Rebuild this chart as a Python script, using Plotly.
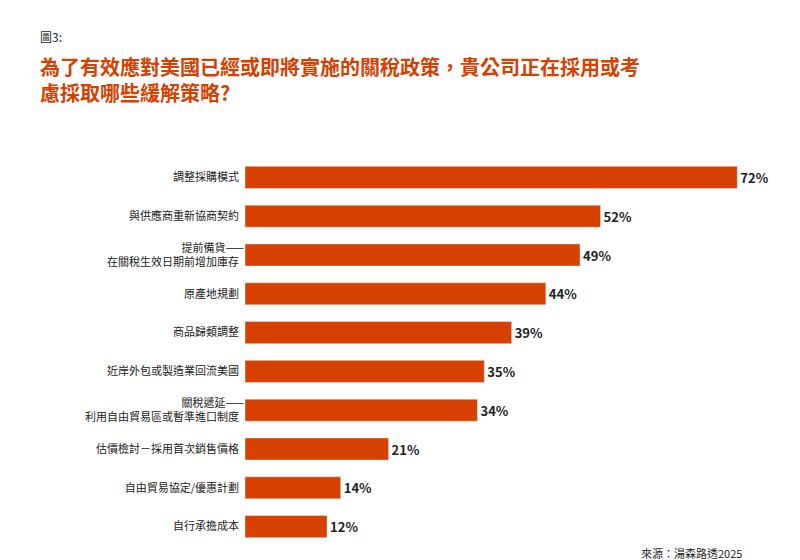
import plotly.graph_objects as go

categories = ["調整採購模式", "與供應商重新協商契約", "提前備貨——<br>在關稅生效日期前增加庫存", "原產地規劃",
              "商品歸類調整", "近岸外包或製造業回流美國", "關稅遞延——<br>利用自由貿易區或暫準進口制度",
              "估價檢討－採用首次銷售價格", "自由貿易協定/優惠計劃", "自行承擔成本"]
values = [72, 52, 49, 44, 39, 35, 34, 21, 14, 12]

font = "Noto Sans CJK TC"
L, R, T, B = 237, 16, 150, 22
W, H = 800 - L - R, 560 - T - B
px = lambda x: (x - L) / W
py = lambda y: (560 - B - y) / H

fig = go.Figure(go.Bar(
    x=values, y=categories, orientation="h", marker_color="#D64000",
    text=[f"<b>{v}%</b>" for v in values], textposition="outside",
    textfont=dict(family=font, size=13, color="#222"), cliponaxis=False))
fig.update_layout(
    width=800, height=560, plot_bgcolor="white", paper_bgcolor="white",
    margin=dict(l=L, r=R, t=T, b=B), bargap=0.43, showlegend=False,
    font=dict(family=font, color="#222"),
    xaxis=dict(range=[0, 80], visible=False),
    yaxis=dict(autorange="reversed", showline=False, ticks="", tickfont=dict(size=11, family=font),
               ticksuffix="  ", showgrid=False),
)
fig.add_annotation(text="圖3:", x=px(30), xref="paper", y=py(28), yref="paper", xanchor="left", yanchor="middle",
                   showarrow=False, font=dict(size=12, family=font, color="#222"))
fig.add_annotation(text="<b>為了有效應對美國已經或即將實施的關稅政策，貴公司正在採用或考<br>慮採取哪些緩解策略?</b>",
                   x=px(30), xref="paper", y=py(42), yref="paper", xanchor="left", yanchor="top", align="left",
                   showarrow=False, font=dict(size=20, family=font, color="#D64000"))
fig.add_annotation(text="來源：湯森路透2025", x=px(736), y=py(545), xref="paper", yref="paper",
                   xanchor="right", yanchor="middle", showarrow=False, font=dict(size=11, family=font, color="#222"))
fig.write_html("out.html")
